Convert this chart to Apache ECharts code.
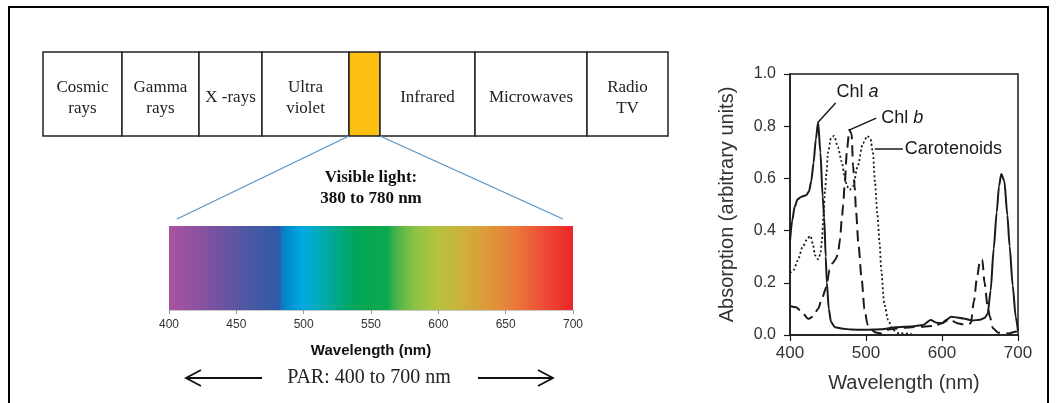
<!DOCTYPE html>
<html><head><meta charset="utf-8">
<script src="https://cdn.jsdelivr.net/npm/echarts@6/dist/echarts.min.js"></script>
<style>html,body{margin:0;padding:0;background:#fff}#c{width:1057px;height:403px}</style>
</head><body><div id="c"></div>
<script>
// ---- data ----
const emBands = ['Cosmic\nrays', 'Gamma\nrays', 'X -rays', 'Ultra\nviolet', '', 'Infrared', 'Microwaves', 'Radio\nTV'];
const visibleTitle = ['Visible light:', '380 to 780 nm'];
const parLabel = 'PAR: 400 to 700 nm';
const spectrumRange = [400, 700];
const spectrumStops = [
  [400, '#a8539f'], [420, '#8f51a0'], [440, '#6c54a2'], [460, '#4b58a5'], [482, '#2f5aa7'],
  [484, '#0a7cc2'], [492, '#0098d6'], [500, '#00abde'], [515, '#00aaad'], [530, '#00a775'],
  [540, '#00a655'], [562, '#0da84e'], [568, '#45b24a'], [582, '#8cc346'], [600, '#b6c23f'],
  [620, '#d0ae3a'], [640, '#df953a'], [660, '#ea7539'], [680, '#ee4737'], [700, '#ec2629']
];
const seriesNames = ['Chl a', 'Chl b', 'Carotenoids'];
const chlA = [
  [400,0.36],[403,0.44],[406,0.49],[410,0.52],[415,0.53],[421,0.535],[425,0.55],[428,0.59],[431,0.66],
  [434,0.75],[437,0.815],[440,0.7],[443,0.53],[445,0.45],[447,0.3],[448.5,0.2],[451,0.1],[454,0.05],
  [459,0.03],[470,0.024],[480,0.021],[500,0.02],[520,0.022],[540,0.03],[560,0.033],[575,0.038],
  [585,0.057],[593,0.047],[600,0.045],[606,0.058],[612,0.07],[620,0.067],[628,0.063],[640,0.056],
  [650,0.058],[656,0.065],[660,0.08],[664,0.17],[668,0.33],[672,0.47],[675,0.57],[678,0.617],
  [682,0.59],[686,0.46],[689,0.34],[693,0.19],[697,0.07],[700,0.015]
];
const chlB = [
  [400,0.111],[408,0.106],[415,0.09],[424,0.062],[430,0.07],[437,0.1],[442,0.14],[448,0.185],[452,0.25],
  [456,0.275],[460,0.29],[463,0.31],[466,0.37],[468,0.44],[470,0.5],[472,0.58],[475,0.71],[478,0.786],
  [481,0.77],[483,0.65],[485,0.57],[487,0.47],[490,0.35],[494,0.224],[498,0.1],[502,0.04],[507,0.02],
  [513,0.01],[520,0.006],[528,0.02],[540,0.025],[560,0.03],[575,0.032],[590,0.035],[600,0.045],
  [610,0.06],[620,0.045],[630,0.04],[638,0.045],[642,0.13],[646,0.22],[650,0.285],[653,0.29],
  [656,0.2],[660,0.11],[663,0.07],[667,0.026],[674,0.009],[687,0.006],[698,0.013],[700,0.015]
];
const carotenoids = [
  [400,0.237],[405,0.25],[410,0.285],[417,0.34],[423,0.37],[427,0.38],[430,0.35],[433,0.305],[437,0.29],
  [440,0.31],[442,0.36],[444,0.46],[446,0.55],[448,0.62],[450,0.7],[454,0.755],[458,0.763],[463,0.72],
  [468,0.665],[472,0.607],[475,0.57],[478.5,0.556],[483,0.57],[489,0.646],[496,0.735],[502,0.763],
  [506,0.75],[509,0.7],[512,0.58],[515,0.46],[518,0.35],[520,0.25],[524,0.12],[529,0.058],[535,0.02],
  [544,0.006],[560,0.005]
];
const xTitle = 'Wavelength (nm)';
const yTitle = 'Absorption (arbitrary units)';

// ---- layout ----
const serif = '"Liberation Serif", "Times New Roman", serif';
const sans = '"Liberation Sans", Arial, sans-serif';
const ink = '#1a1a1a';
const bandEdges = [43, 122, 199, 262, 349, 380, 475, 587, 668];
const bandTop = 52, bandBottom = 136;

const graphic = [];
graphic.push({ type: 'rect', silent: true, z: 0, shape: { x: 9, y: 7, width: 1039, height: 440 },
  style: { fill: 'none', stroke: '#000', lineWidth: 2 } });
emBands.forEach((b, i) => {
  const x0 = bandEdges[i], x1 = bandEdges[i + 1];
  graphic.push({ type: 'rect', silent: true, shape: { x: x0, y: bandTop, width: x1 - x0, height: bandBottom - bandTop },
    style: { fill: b === '' ? '#fcc012' : '#fff', stroke: '#222', lineWidth: 1.5 } });
  if (b) graphic.push({ type: 'text', silent: true, style: { text: b, x: (x0 + x1) / 2, y: 98, align: 'center',
    verticalAlign: 'middle', fontFamily: serif, fontSize: 17, lineHeight: 21, fill: '#222' } });
});
graphic.push({ type: 'line', silent: true, shape: { x1: bandEdges[4], y1: bandBottom, x2: 177, y2: 219 }, style: { stroke: '#5b93c4', lineWidth: 1.3 } });
graphic.push({ type: 'line', silent: true, shape: { x1: bandEdges[5], y1: bandBottom, x2: 563, y2: 219 }, style: { stroke: '#5b93c4', lineWidth: 1.3 } });
visibleTitle.forEach((t, i) => graphic.push({ type: 'text', silent: true, style: { text: t, x: 371, y: 178 + i * 21,
  align: 'center', verticalAlign: 'middle', fontFamily: serif, fontWeight: 'bold', fontSize: 17, fill: '#111' } }));
graphic.push({ type: 'text', silent: true, style: { text: parLabel, x: 369, y: 378, align: 'center', verticalAlign: 'middle',
  fontFamily: serif, fontSize: 20, fill: '#222' } });
graphic.push({ type: 'polyline', silent: true, shape: { points: [[262, 378], [186, 378]] }, style: { stroke: '#111', lineWidth: 1.8, fill: 'none' } });
graphic.push({ type: 'polyline', silent: true, shape: { points: [[201, 370], [186, 378], [201, 386]] }, style: { stroke: '#111', lineWidth: 1.8, fill: 'none' } });
graphic.push({ type: 'polyline', silent: true, shape: { points: [[478, 378], [553, 378]] }, style: { stroke: '#111', lineWidth: 1.8, fill: 'none' } });
graphic.push({ type: 'polyline', silent: true, shape: { points: [[538, 370], [553, 378], [538, 386]] }, style: { stroke: '#111', lineWidth: 1.8, fill: 'none' } });

const chart = echarts.init(document.getElementById('c'), null, { renderer: 'canvas' });

function leader(from, to, label, offset) {
  return {
    markLine: { silent: true, symbol: ['none', 'none'], animation: false, label: { show: false },
      lineStyle: { type: 'solid', color: ink, width: 1.5 }, emphasis: { disabled: true },
      data: [[{ coord: from }, { coord: to }]] },
    markPoint: { silent: true, symbol: 'circle', symbolSize: 0, animation: false,
      data: [{ coord: to }],
      label: { show: true, position: 'right', distance: 1, offset: offset, formatter: label,
        rich: { n: { fontFamily: sans, fontSize: 18, color: ink }, i: { fontFamily: sans, fontSize: 18, fontStyle: 'italic', color: ink } } } }
  };
}

const dashes = ['solid', [11, 6], [2, 2.5]];
const curves = [chlA, chlB, carotenoids];
const leaders = [
  leader([437, 0.815], [460, 0.889], '{n|Chl }{i|a}', [0, -11]),
  leader([478.5, 0.786], [513.5, 0.831], '{n|Chl }{i|b}', [4, 0]),
  leader([511.5, 0.712], [548.5, 0.712], '{n|Carotenoids}', [1, 0])
];

const option = {
  animation: false,
  backgroundColor: '#fff',
  graphic: graphic,
  grid: [
    { left: 169, right: 484, top: 226, bottom: 93 },
    { left: 790, right: 39, top: 74, bottom: 68, show: true, borderColor: ink, borderWidth: 1.5, backgroundColor: 'transparent' }
  ],
  xAxis: [
    { gridIndex: 0, type: 'value', min: spectrumRange[0], max: spectrumRange[1], interval: 50,
      axisLine: { show: true, lineStyle: { color: '#c8c8c8', width: 1 } },
      axisTick: { show: true, length: 4, lineStyle: { color: '#999' } },
      axisLabel: { fontFamily: sans, fontSize: 12, color: '#333', margin: 9 },
      splitLine: { show: false },
      name: xTitle, nameLocation: 'middle', nameGap: 33,
      nameTextStyle: { fontFamily: sans, fontSize: 15, fontWeight: 'bold', color: '#111' } },
    { gridIndex: 1, type: 'value', min: 400, max: 700, interval: 100,
      axisLine: { show: true, lineStyle: { color: ink, width: 1.5 } },
      axisTick: { show: true, length: 6, lineStyle: { color: ink, width: 1.2 } },
      axisLabel: { fontFamily: sans, fontSize: 17, color: '#333', margin: 10 },
      splitLine: { show: false },
      name: xTitle, nameLocation: 'middle', nameGap: 38,
      nameTextStyle: { fontFamily: sans, fontSize: 20, color: '#333' } }
  ],
  yAxis: [
    { gridIndex: 0, type: 'value', min: 0, max: 1, show: false },
    { gridIndex: 1, type: 'value', min: 0, max: 1, interval: 0.2,
      axisLine: { show: true, lineStyle: { color: ink, width: 1.5 } },
      axisTick: { show: true, length: 6, lineStyle: { color: ink, width: 1.2 } },
      axisLabel: { fontFamily: sans, fontSize: 16, color: '#333', margin: 14, formatter: v => v.toFixed(1) },
      splitLine: { show: false },
      name: yTitle, nameLocation: 'middle', nameGap: 53,
      nameTextStyle: { fontFamily: sans, fontSize: 20, color: '#333' } }
  ],
  series: [
    { type: 'custom', xAxisIndex: 0, yAxisIndex: 0, silent: true, data: [spectrumRange],
      renderItem: function (params, api) {
        const lo = api.value(0), hi = api.value(1);
        const p0 = api.coord([lo, 1]), p1 = api.coord([hi, 0]);
        return { type: 'rect', shape: { x: p0[0], y: p0[1], width: p1[0] - p0[0], height: p1[1] - p0[1] },
          style: { fill: new echarts.graphic.LinearGradient(0, 0, 1, 0,
            spectrumStops.map(s => ({ offset: (s[0] - lo) / (hi - lo), color: s[1] }))) } };
      } }
  ].concat(curves.map((d, i) => Object.assign({
    name: seriesNames[i], type: 'line', xAxisIndex: 1, yAxisIndex: 1, data: d,
    showSymbol: false, symbol: 'none', smooth: 0.25, smoothMonotone: 'x', silent: true,
    lineStyle: { color: ink, width: i === 2 ? 1.8 : 2, type: dashes[i] }, z: 3
  }, leaders[i])))
};
chart.setOption(option);
</script></body></html>
